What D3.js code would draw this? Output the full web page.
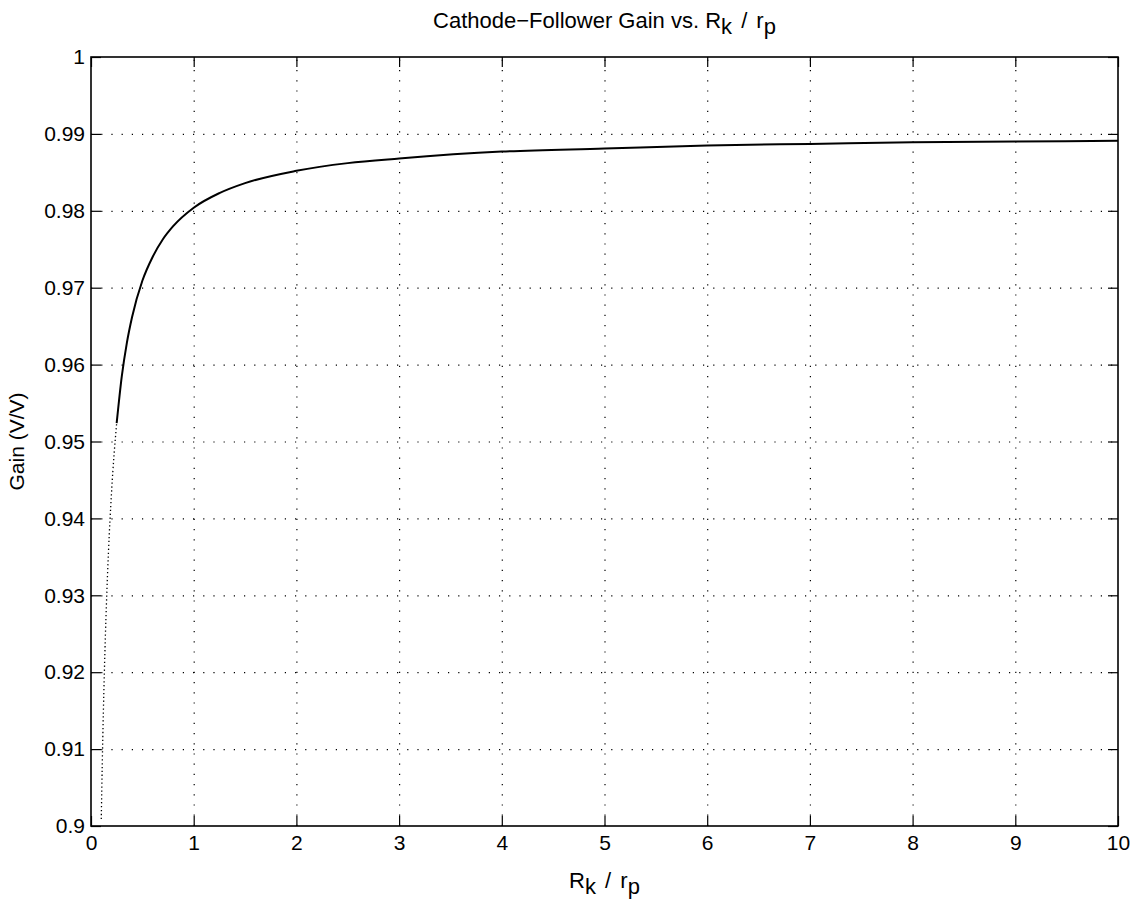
<!DOCTYPE html>
<html>
<head>
<meta charset="utf-8">
<script src="https://cdn.jsdelivr.net/npm/d3@7"></script>
<style>
  body { margin: 0; background: #fff; }
  text { font-family: "Liberation Sans", Arial, Helvetica, sans-serif; fill: #000; }
</style>
</head>
<body>
<div id="chart"></div>
<script>
// values
var rkRatio = [0.10, 0.11, 0.12, 0.13, 0.14, 0.15, 0.17, 0.20, 0.25, 0.30, 0.35, 0.40, 0.50, 0.60, 0.70, 0.80,
    1.0, 1.25, 1.5, 2.0, 2.5, 3, 4, 5, 6, 7, 8, 9, 10];
var gain = [0.9009, 0.9083, 0.9146, 0.9200, 0.9247, 0.9288, 0.9356, 0.9434, 0.9524, 0.9585, 0.9629, 0.9662, 0.9709, 0.9740, 0.9763, 0.9780,
    0.9804, 0.9823, 0.9836, 0.9852, 0.9862, 0.9868, 0.9877, 0.9881, 0.9885, 0.9887, 0.9889, 0.9890, 0.9891];
var xTicks = [0, 1, 2, 3, 4, 5, 6, 7, 8, 9, 10];
var yTicks = [0.9, 0.91, 0.92, 0.93, 0.94, 0.95, 0.96, 0.97, 0.98, 0.99, 1];
var yTickLabels = ["0.9", "0.91", "0.92", "0.93", "0.94", "0.95", "0.96", "0.97", "0.98", "0.99", "1"];

var margin = { top: 57, right: 21, bottom: 79, left: 91 },
    fullW = 1139,
    fullH = 905,
    width = fullW - margin.left - margin.right,
    height = fullH - margin.top - margin.bottom;

var fontSize = 21;

var root = d3.select("#chart")
    .append("svg")
    .attr("width", fullW)
    .attr("height", fullH);

var svg = root.append("g")
    .attr("transform", "translate(" + margin.left + "," + margin.top + ")");

var x = d3.scaleLinear().domain([0, 10]).range([0, width]);
var y = d3.scaleLinear().domain([0.9, 1]).range([height, 0]);

// dotted grid
svg.append("g")
    .attr("class", "grid")
    .attr("transform", "translate(0," + height + ")")
    .call(d3.axisBottom(x).tickValues(xTicks.slice(1, -1)).tickSize(-height).tickFormat(""));
svg.append("g")
    .attr("class", "grid")
    .call(d3.axisLeft(y).tickValues(yTicks.slice(1, -1)).tickSize(-width).tickFormat(""));
svg.selectAll(".grid .domain").remove();
svg.selectAll(".grid line")
    .attr("stroke", "#000")
    .attr("stroke-width", 1.2)
    .attr("stroke-dasharray", "1.2,9");

// curve: steep low part shows as dots in the original
var line = d3.line()
    .x(function (d) { return x(d[0]); })
    .y(function (d) { return y(d[1]); })
    .curve(d3.curveMonotoneX);

var pts = rkRatio.map(function (v, i) { return [v, gain[i]]; });
var split = 8;

svg.append("path")
    .datum(pts.slice(0, split + 1))
    .attr("d", line)
    .attr("fill", "none")
    .attr("stroke", "#000")
    .attr("stroke-width", 1.3)
    .attr("stroke-dasharray", "1.3,2.6");

svg.append("path")
    .datum(pts.slice(split))
    .attr("d", line)
    .attr("fill", "none")
    .attr("stroke", "#000")
    .attr("stroke-width", 2);

// axes with inward ticks on all four sides
svg.append("g")
    .attr("transform", "translate(0," + height + ")")
    .call(d3.axisBottom(x).tickValues(xTicks).tickSize(-10).tickPadding(9).tickFormat(d3.format("d")));
svg.append("g")
    .call(d3.axisLeft(y).tickValues(yTicks).tickSize(-10).tickPadding(6)
        .tickFormat(function (d, i) { return yTickLabels[i]; }));
svg.append("g")
    .call(d3.axisTop(x).tickValues(xTicks).tickSize(-10).tickFormat(""));
svg.append("g")
    .attr("transform", "translate(" + width + ",0)")
    .call(d3.axisRight(y).tickValues(yTicks).tickSize(-10).tickFormat(""));

svg.selectAll(".domain").remove();
svg.selectAll(".tick line").filter(function () { return !this.closest(".grid"); })
    .attr("stroke", "#000").attr("stroke-width", 1.2);
svg.selectAll(".tick text")
    .style("font-size", fontSize + "px")
    .style("font-family", "'Liberation Sans', Arial, sans-serif");

svg.append("rect")
    .attr("width", width)
    .attr("height", height)
    .attr("fill", "none")
    .attr("stroke", "#000")
    .attr("stroke-width", 1.6);

// R_k / r_p with subscripts
function ratioLabel(sel) {
    sel.append("tspan").text("R");
    sel.append("tspan").attr("dy", 6).text("k");
    sel.append("tspan").attr("dy", -6).attr("dx", 3).text(" /");
    sel.append("tspan").attr("dx", 3).text(" r");
    sel.append("tspan").attr("dy", 6).text("p");
}

// title
var title = root.append("text")
    .attr("x", margin.left + width / 2)
    .attr("y", 28)
    .attr("text-anchor", "middle")
    .style("font-size", "22px");
title.append("tspan").text("Cathode\u2212Follower Gain vs. ");
ratioLabel(title);

// x label
root.append("text")
    .attr("x", margin.left + width / 2)
    .attr("y", 888)
    .attr("text-anchor", "middle")
    .style("font-size", "22px")
    .call(ratioLabel);

// y label
root.append("text")
    .attr("transform", "translate(24," + (margin.top + height / 2) + ") rotate(-90)")
    .attr("text-anchor", "middle")
    .style("font-size", fontSize + "px")
    .text("Gain (V/V)");
</script>
</body>
</html>
